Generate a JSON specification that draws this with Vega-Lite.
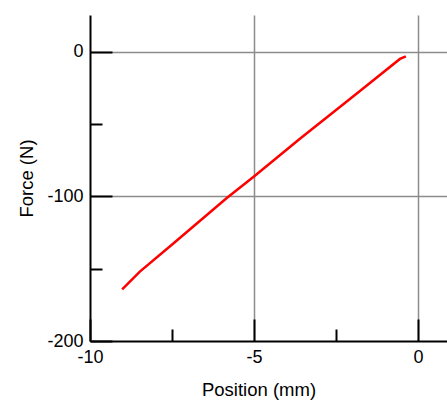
{
  "$schema": "https://vega.github.io/schema/vega-lite/v6.json",
  "width": 357,
  "height": 326,
  "autosize": {"type": "none"},
  "padding": {"left": 90, "top": 15, "right": 0, "bottom": 60},
  "background": "white",
  "config": {
    "view": {"stroke": null},
    "axis": {
      "labelFont": "Liberation Sans",
      "titleFont": "Liberation Sans",
      "labelFontSize": 18,
      "titleFontSize": 18.5,
      "labelColor": "black",
      "titleColor": "black",
      "titleFontWeight": "normal",
      "domainColor": "black",
      "domainWidth": 2,
      "tickColor": "black",
      "tickWidth": 2,
      "gridColor": "#8c8c8c",
      "gridWidth": 1.5
    }
  },
  "data": {
    "values": [
      {"position": -9.02, "force": -164.2},
      {"position": -8.48, "force": -152.0},
      {"position": -7.46, "force": -132.5},
      {"position": -5.83, "force": -101.0},
      {"position": -5.02, "force": -86.5},
      {"position": -3.6, "force": -60.0},
      {"position": -1.77, "force": -27.0},
      {"position": -0.55, "force": -4.8},
      {"position": -0.37, "force": -3.0}
    ]
  },
  "mark": {"type": "line", "color": "#ff0000", "strokeWidth": 2.5, "clip": true},
  "encoding": {
    "x": {
      "field": "position",
      "type": "quantitative",
      "scale": {"domain": [-10, 0.884], "nice": false, "zero": false},
      "axis": {
        "title": "Position (mm)",
        "values": [-10, -7.5, -5, -2.5, 0],
        "labelExpr": "datum.value % 5 === 0 ? toString(datum.value) : ''",
        "tickSize": {"condition": {"test": "datum.value % 5 !== 0", "value": -12}, "value": -22},
        "gridOpacity": {"condition": {"test": "datum.value === -5 || datum.value === 0", "value": 1}, "value": 0},
        "grid": true,
        "labelPadding": 29,
        "labelFlush": false,
        "labelOverlap": false,
        "titleX": 168.5,
        "titleY": 54,
        "titleBaseline": "alphabetic",
        "titleAlign": "center"
      }
    },
    "y": {
      "field": "force",
      "type": "quantitative",
      "scale": {"domain": [-200, 25.6], "nice": false, "zero": false},
      "axis": {
        "title": "Force (N)",
        "values": [-200, -150, -100, -50, 0],
        "labelExpr": "datum.value % 100 === 0 ? toString(datum.value) : ''",
        "tickSize": {"condition": {"test": "datum.value % 100 !== 0", "value": -12}, "value": -22},
        "gridOpacity": {"condition": {"test": "datum.value === -100 || datum.value === 0", "value": 1}, "value": 0},
        "grid": true,
        "labelPadding": 29,
        "labelFlush": false,
        "labelOverlap": false,
        "titleAngle": -90,
        "titleX": -58,
        "titleY": 163,
        "titleBaseline": "alphabetic",
        "titleAlign": "center"
      }
    }
  }
}
